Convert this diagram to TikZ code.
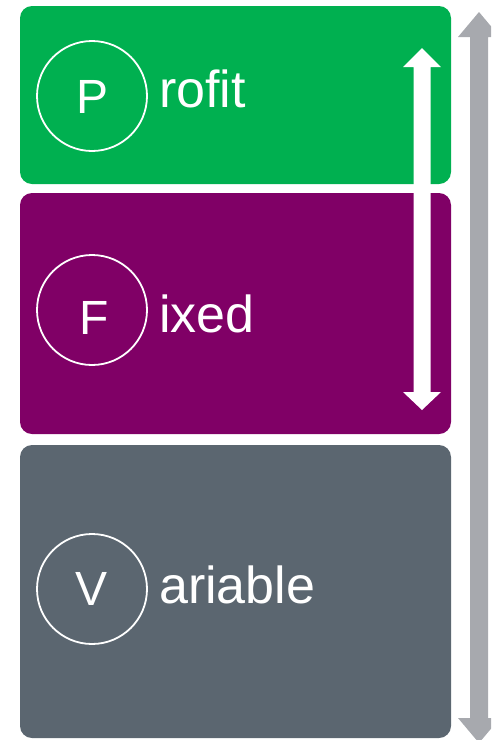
\documentclass[tikz,border=0pt]{standalone}
\usepackage{fontspec}
\setmainfont{Liberation Sans}
\definecolor{pgreen}{HTML}{00B050}
\definecolor{ppurple}{HTML}{800066}
\definecolor{pgray}{HTML}{5B6670}
\definecolor{parrow}{HTML}{A7A9AE}
\begin{document}
\begin{tikzpicture}[x=1pt,y=-1pt,
  band/.style={rounded corners=12pt},
  ring/.style={circle, draw=white, line width=1.8pt, minimum size=110pt, inner sep=0pt},
  letter/.style={text=white, font=\fontsize{48}{48}\selectfont, inner sep=0pt, anchor=base},
  word/.style={text=white, font=\fontsize{52}{52}\selectfont, inner sep=0pt, anchor=base west}]
\useasboundingbox (0,0) rectangle (491,740);
\clip (0,0) rectangle (491,740);
% bands
\fill[pgreen, band] (20,6) rectangle (451,184);
\fill[ppurple, band] (20,193) rectangle (451,434);
\fill[pgray, band] (20,445) rectangle (451,738);
% gray double arrow
\fill[parrow] (479,12) -- (500,37) -- (488,37) -- (488,718) -- (500,718) -- (479,743)
  -- (458,718) -- (470,718) -- (470,37) -- (458,37) -- cycle;
% white double arrow
\fill[white] (422,48) -- (441,67) -- (430.5,67) -- (430.5,392) -- (441,392) -- (422,410)
  -- (403,392) -- (413.5,392) -- (413.5,67) -- (403,67) -- cycle;
% circles and labels
\node[ring] (cp) at (92,96) {};
\node[ring] (cf) at (92,310) {};
\node[ring] (cv) at (92,589) {};
\node[letter] (lp) at (93,113) {P};
\node[letter] (lf) at (94,334) {F};
\node[letter] (lv) at (92,605) {V};
\node[word] (wp) at (159,107) {rofit};
\node[word] (wf) at (159,332) {ixed};
\node[word] (wv) at (159,603) {ariable};
\end{tikzpicture}
\end{document}
